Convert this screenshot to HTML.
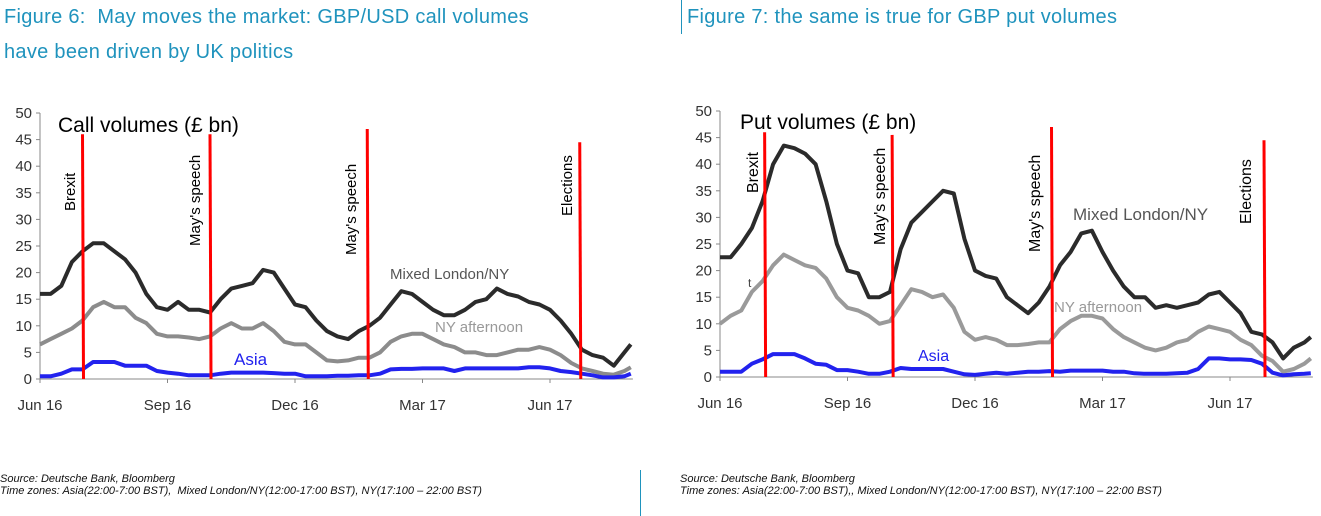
<!DOCTYPE html>
<html><head><meta charset="utf-8"><style>
body{margin:0;background:#fff;width:1321px;height:516px;overflow:hidden;font-family:"Liberation Sans",sans-serif}
.t{position:absolute;color:#1f93bd;font-size:20px;letter-spacing:0.3px}
.src{position:absolute;font-style:italic;font-size:11px;color:#111}
</style></head><body>
<div class="t" style="left:4px;top:6px">Figure 6:&nbsp; May moves the market: GBP/USD call volumes</div>
<div class="t" style="left:4px;top:41px">have been driven by UK politics</div>
<div style="position:absolute;left:681px;top:0;width:1px;height:34px;background:#1f93bd"></div>
<div class="t" style="left:687px;top:6px">Figure 7: the same is true for GBP put volumes</div>
<div style="position:absolute;left:640px;top:470px;width:1px;height:46px;background:#1f93bd"></div>
<div class="src" style="left:0;top:473px">Source: Deutsche Bank, Bloomberg<br>Time zones: Asia(22:00-7:00 BST),&nbsp; Mixed London/NY(12:00-17:00 BST), NY(17:100 – 22:00 BST)</div>
<div class="src" style="left:680px;top:473px">Source: Deutsche Bank, Bloomberg<br>Time zones: Asia(22:00-7:00 BST),, Mixed London/NY(12:00-17:00 BST), NY(17:100 – 22:00 BST)</div>
<svg id="svg" width="1321" height="516" style="position:absolute;left:0;top:0"></svg>
<script>
const yTicks=[0,5,10,15,20,25,30,35,40,45,50];
const xTickLabels=["Jun 16","Sep 16","Dec 16","Mar 17","Jun 17"];
const xTickMonths=[0,3,6,9,12];
const callMixed=[16,16,17.5,22,24,25.5,25.5,24,22.5,20,16,13.5,13,14.5,13,13,12.5,15,17,17.5,18,20.5,20,17,14,13.5,11,9,8,7.5,9,10,11.5,14,16.5,16,14.5,13,12,12,13,14.5,15,17,16,15.5,14.5,14,13,11,8.5,5.5,4.5,4,2.5,5,6.5];
const callNY=[6.5,7.5,8.5,9.5,11,13.5,14.5,13.5,13.5,11.5,10.5,8.5,8,8,7.8,7.5,8,9.5,10.5,9.5,9.5,10.5,9,7,6.5,6.5,5,3.5,3.3,3.5,4,4,5,7,8,8.5,8.5,7.5,6.5,6,5,5,4.5,4.5,5,5.5,5.5,6,5.5,4.5,3,2,1.5,1,0.8,1.5,2.2];
const callAsia=[0.5,0.5,1,1.8,1.8,3.2,3.2,3.2,2.5,2.5,2.5,1.5,1.2,1,0.7,0.7,0.7,1,1.2,1.2,1.2,1.2,1.1,1,1,0.5,0.5,0.5,0.6,0.6,0.7,0.7,1,1.8,1.9,1.9,2,2,2,1.5,2,2,2,2,2,2,2.2,2.2,2,1.5,1.3,1,0.7,0.3,0.3,0.5,1];
const putMixed=[22.5,22.5,25,28,33,40,43.5,43,42,40,33,25,20,19.5,15,15,16,24,29,31,33,35,34.5,26,20,19,18.5,15,13.5,12,14,17,21,23.5,27,27.5,23.5,20,17,15,15,13,13.5,13,13.5,14,15.5,16,14,12,8.5,8,6.5,3.5,5.5,6.5,7.5];
const putNY=[10,11.5,12.5,16,18,21,23,22,21,20.5,18.5,15,13,12.5,11.5,10,10.5,13.5,16.5,16,15,15.5,13,8.5,7,7.5,7,6,6,6.2,6.5,6.5,9,10.5,11.5,11.5,11,9,7.5,6.5,5.5,5,5.5,6.5,7,8.5,9.5,9,8.5,7,6,4,3,1,1.5,2.5,3.5];
const putAsia=[1,1,1,2.5,3.3,4.3,4.3,4.3,3.5,2.5,2.3,1.3,1.3,1,0.6,0.6,1,1.7,1.5,1.5,1.5,1.5,1,0.5,0.4,0.6,0.8,0.6,0.8,1,1,1.1,1,1.2,1.2,1.2,1.2,1,1,0.7,0.6,0.6,0.6,0.7,0.8,1.5,3.5,3.5,3.3,3.3,3.2,2.5,0.8,0.3,0.5,0.6,0.7];
const callEvents=["Brexit","May's speech","May's speech","Elections"];
const callEventMonths=[1.0,4.0,7.7,12.7];
const callEventTops=[46,46,47,44.5];
const putEventMonths=[1.05,4.05,7.8,12.8];
const putEventTops=[46,45.5,47,44.5];
const NS="http://www.w3.org/2000/svg";
const svg=document.getElementById('svg');
function mk(tag,attrs,parent){const e=document.createElementNS(NS,tag);for(const k in attrs)e.setAttribute(k,attrs[k]);(parent||svg).appendChild(e);return e;}
function chart(cfg){
  const g=mk('g',{});
  
  
  const X=m=>cfg.x0+m*cfg.pxm, Y=v=>cfg.y0-(cfg.y0-cfg.y50)*v/50;
  const ax=mk('line',{x1:cfg.x0,y1:Y(50),x2:cfg.x0,y2:cfg.y0,stroke:'#888','stroke-width':1},g);
  
  const bx=mk('line',{x1:cfg.x0,y1:cfg.y0,x2:X(13.95),y2:cfg.y0,stroke:'#888','stroke-width':1},g);
  
  yTicks.forEach(v=>{
    mk('line',{x1:cfg.x0-4,x2:cfg.x0,y1:Y(v),y2:Y(v),stroke:'#888'},g);
    const t=mk('text',{x:cfg.x0-8,y:Y(v)+5,'text-anchor':'end','font-size':15,fill:'#333'},g);
    t.textContent=v;
  });
  xTickMonths.forEach((m,i)=>{
    mk('line',{x1:X(m),x2:X(m),y1:cfg.y0,y2:cfg.y0+4,stroke:'#888'},g);
    const t=mk('text',{x:X(m),y:cfg.y0+31,'text-anchor':'middle','font-size':15,fill:'#333'},g);
    t.textContent=xTickLabels[i];
  });
  cfg.series.forEach(s=>{
    const d=s.data.map((v,i)=>(i?'L':'M')+X(Math.min(i*0.25,13.9)).toFixed(1)+','+Y(v).toFixed(1)).join('');
    const p=mk('path',{d:d,fill:'none',stroke:s.color,'stroke-width':4,'stroke-linejoin':'round'},g);
    
  });
  cfg.events.forEach((m,i)=>{
    const l=mk('line',{x1:X(m),x2:X(m)+1,y1:Y(cfg.tops[i]),y2:cfg.y0,stroke:'#f00','stroke-width':3},g);
    
    const lb=cfg.labels[i];
    const t=mk('text',{transform:`translate(${lb[0]},${lb[1]}) rotate(-90)`,'font-size':lb[2],fill:'#000'},g);
    t.textContent=callEvents[i];
  });
  cfg.texts.forEach(tx=>{
    const t=mk('text',{x:tx[1],y:tx[2],'font-size':tx[3],fill:tx[4]},g);
    t.textContent=tx[0];
  });
}
chart({name:'call-volumes-chart',x0:40,pxm:42.5,y0:379,y50:113,
  series:[{name:'ny-afternoon-line',data:callNY,color:'#8c8c8c'},{name:'mixed-london-ny-line',data:callMixed,color:'#2b2b2b'},{name:'asia-line',data:callAsia,color:'#2222ee'}],
  events:callEventMonths,tops:callEventTops,
  labels:[[75,211,15],[200,246,15],[356,255,15],[572,216,15]],
  texts:[["Call volumes (£ bn)",58,132,21,'#000','chart-title'],["Mixed  London/NY",390,279,15,'#555','series-label-mixed'],["NY afternoon",435,332,15,'#999','series-label-ny'],["Asia",234,365,17,'#2222ee','series-label-asia']]});
chart({name:'put-volumes-chart',x0:720,pxm:42.5,y0:377,y50:111,
  series:[{name:'ny-afternoon-line',data:putNY,color:'#9a9a9a'},{name:'mixed-london-ny-line',data:putMixed,color:'#2b2b2b'},{name:'asia-line',data:putAsia,color:'#2222ee'}],
  events:putEventMonths,tops:putEventTops,
  labels:[[758,193,16],[885,245,16],[1040,252,16],[1251,224,16]],
  texts:[["Put volumes (£ bn)",740,129,21,'#000','chart-title'],["Mixed London/NY",1073,220,17,'#555','series-label-mixed'],["NY afternoon",1054,312,15,'#999','series-label-ny'],["Asia",918,361,16,'#2222ee','series-label-asia'],["t",748,287,12,'#444','stray-label']]});
</script>
</body></html>
